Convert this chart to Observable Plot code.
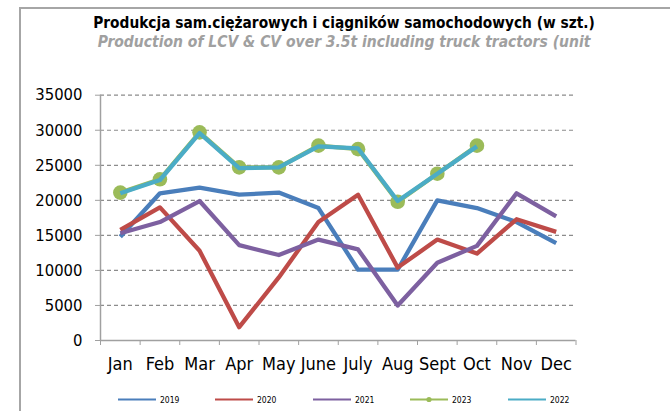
<!DOCTYPE html>
<html>
<head>
<meta charset="utf-8">
<script src="https://cdn.jsdelivr.net/npm/d3@7"></script>
<script src="https://cdn.jsdelivr.net/npm/@observablehq/plot@0.6"></script>
<style>
  html, body { margin: 0; padding: 0; background: #fff; }
  #wrap { position: relative; width: 670px; height: 411px; overflow: hidden; font-family: "DejaVu Sans Condensed", "DejaVu Sans", sans-serif; font-stretch: condensed; }
  #frame { position: absolute; left: 19px; top: 7px; width: 700px; height: 450px; border-left: 2px solid #a6a6a6; border-top: 2px solid #a6a6a6; box-sizing: border-box; }
  #title { position: absolute; left: 0; width: 688px; top: 14px; text-align: center; font-weight: bold; font-size: 15.3px; color: #000; white-space: nowrap; }
  #subtitle { position: absolute; left: 0; width: 688px; top: 32.5px; text-align: center; font-weight: bold; font-style: italic; font-size: 15.5px; color: #a0a0a0; white-space: nowrap; }
  #chart { position: absolute; left: 0; top: 0; }
  #legend { position: absolute; left: 0; top: 392px; }
</style>
</head>
<body>
<div id="wrap">
  <div id="frame"></div>
  <div id="title">Produkcja sam.ciężarowych i ciągników samochodowych (w szt.)</div>
  <div id="subtitle">Production of LCV &amp; CV over 3.5t including truck tractors (unit</div>
  <div id="chart"></div>
  <svg id="legend" width="670" height="16"></svg>
</div>
<script>
const months = ["Jan","Feb","Mar","Apr","May","June","July","Aug","Sept","Oct","Nov","Dec"];
const yTicks = [0, 5000, 10000, 15000, 20000, 25000, 30000, 35000];
const v2019 = [14800, 21000, 21800, 20800, 21100, 18900, 10100, 10100, 20000, 18900, 16900, 13900];
const v2020 = [15800, 19000, 12800, 1900, 9000, 16900, 20800, 10400, 14400, 12400, 17300, 15500];
const v2021 = [15300, 16900, 19900, 13600, 12200, 14400, 13000, 5000, 11100, 13500, 21000, 17700];
const v2023 = [21100, 23000, 29700, 24700, 24700, 27800, 27300, 19800, 23800, 27800];
const v2022 = [21000, 22900, 29600, 24600, 24700, 27700, 27400, 19900, 23800, 27700];

const seriesList = [
  {name: "2019", values: v2019, color: "#4A7EBB"},
  {name: "2020", values: v2020, color: "#BE4B48"},
  {name: "2021", values: v2021, color: "#7D60A0"},
  {name: "2023", values: v2023, color: "#9BBB59", dots: true},
  {name: "2022", values: v2022, color: "#4BACC6"}
];

const rows = s => s.values.map((v, i) => ({i, month: months[i], value: v}));

const marks = [
  Plot.gridY({ticks: yTicks.filter(d => d > 0), stroke: "#8c8c8c", strokeOpacity: 1, strokeWidth: 1.2, strokeDasharray: "4,3"}),
  Plot.ruleX([0], {stroke: "#a0a0a0", strokeWidth: 1.5}),
  Plot.ruleY([0], {stroke: "#a0a0a0", strokeWidth: 1.5}),
  Plot.axisY({ticks: yTicks, label: null, tickSize: 5, tickPadding: 13, stroke: "#a0a0a0", fontSize: 16.5, fill: "#000", tickFormat: d => String(d)}),
  Plot.axisX({ticks: d3.range(months.length + 1), label: null, tickSize: 5, stroke: "#a0a0a0", tickFormat: () => ""}),
  Plot.axisX({ticks: months.map((m, i) => i + 0.5), label: null, tickSize: 0, tickPadding: 17, fontSize: 18, fill: "#000", tickFormat: d => months[Math.floor(d)]})
];

for (const s of seriesList) {
  const data = rows(s);
  marks.push(Plot.line(data, {x: d => d.i + 0.5, y: "value", stroke: s.color, strokeWidth: 4.3, strokeLinejoin: "round", strokeLinecap: "butt"}));
  if (s.dots) marks.push(Plot.dot(data, {x: d => d.i + 0.5, y: "value", fill: s.color, r: 7.3}));
}

const chart = Plot.plot({
  width: 670,
  height: 411,
  marginLeft: 100,
  marginRight: 94.5,
  marginTop: 94.7,
  marginBottom: 71,
  style: {fontFamily: "'DejaVu Sans Condensed', 'DejaVu Sans', sans-serif", background: "transparent", overflow: "visible"},
  x: {type: "linear", domain: [0, months.length], axis: null, label: null},
  y: {domain: [0, 35000], axis: null, label: null},
  marks
});
d3.select(chart).style("font-stretch", "condensed");
document.getElementById("chart").appendChild(chart);

// legend
const leg = d3.select("#legend");
const startX = [118, 215, 313, 410, 508];
seriesList.forEach((s, k) => {
  const x0 = startX[k];
  leg.append("line").attr("x1", x0).attr("x2", x0 + 38).attr("y1", 7.5).attr("y2", 7.5)
    .attr("stroke", s.color).attr("stroke-width", 2);
  if (s.dots) leg.append("circle").attr("cx", x0 + 19).attr("cy", 7.5).attr("r", 2.6).attr("fill", s.color);
  leg.append("text").attr("x", x0 + 42).attr("y", 10.5).attr("font-size", 8.5)
    .attr("font-family", "'DejaVu Sans Condensed', 'DejaVu Sans', sans-serif").text(s.name);
});
</script>
</body>
</html>
